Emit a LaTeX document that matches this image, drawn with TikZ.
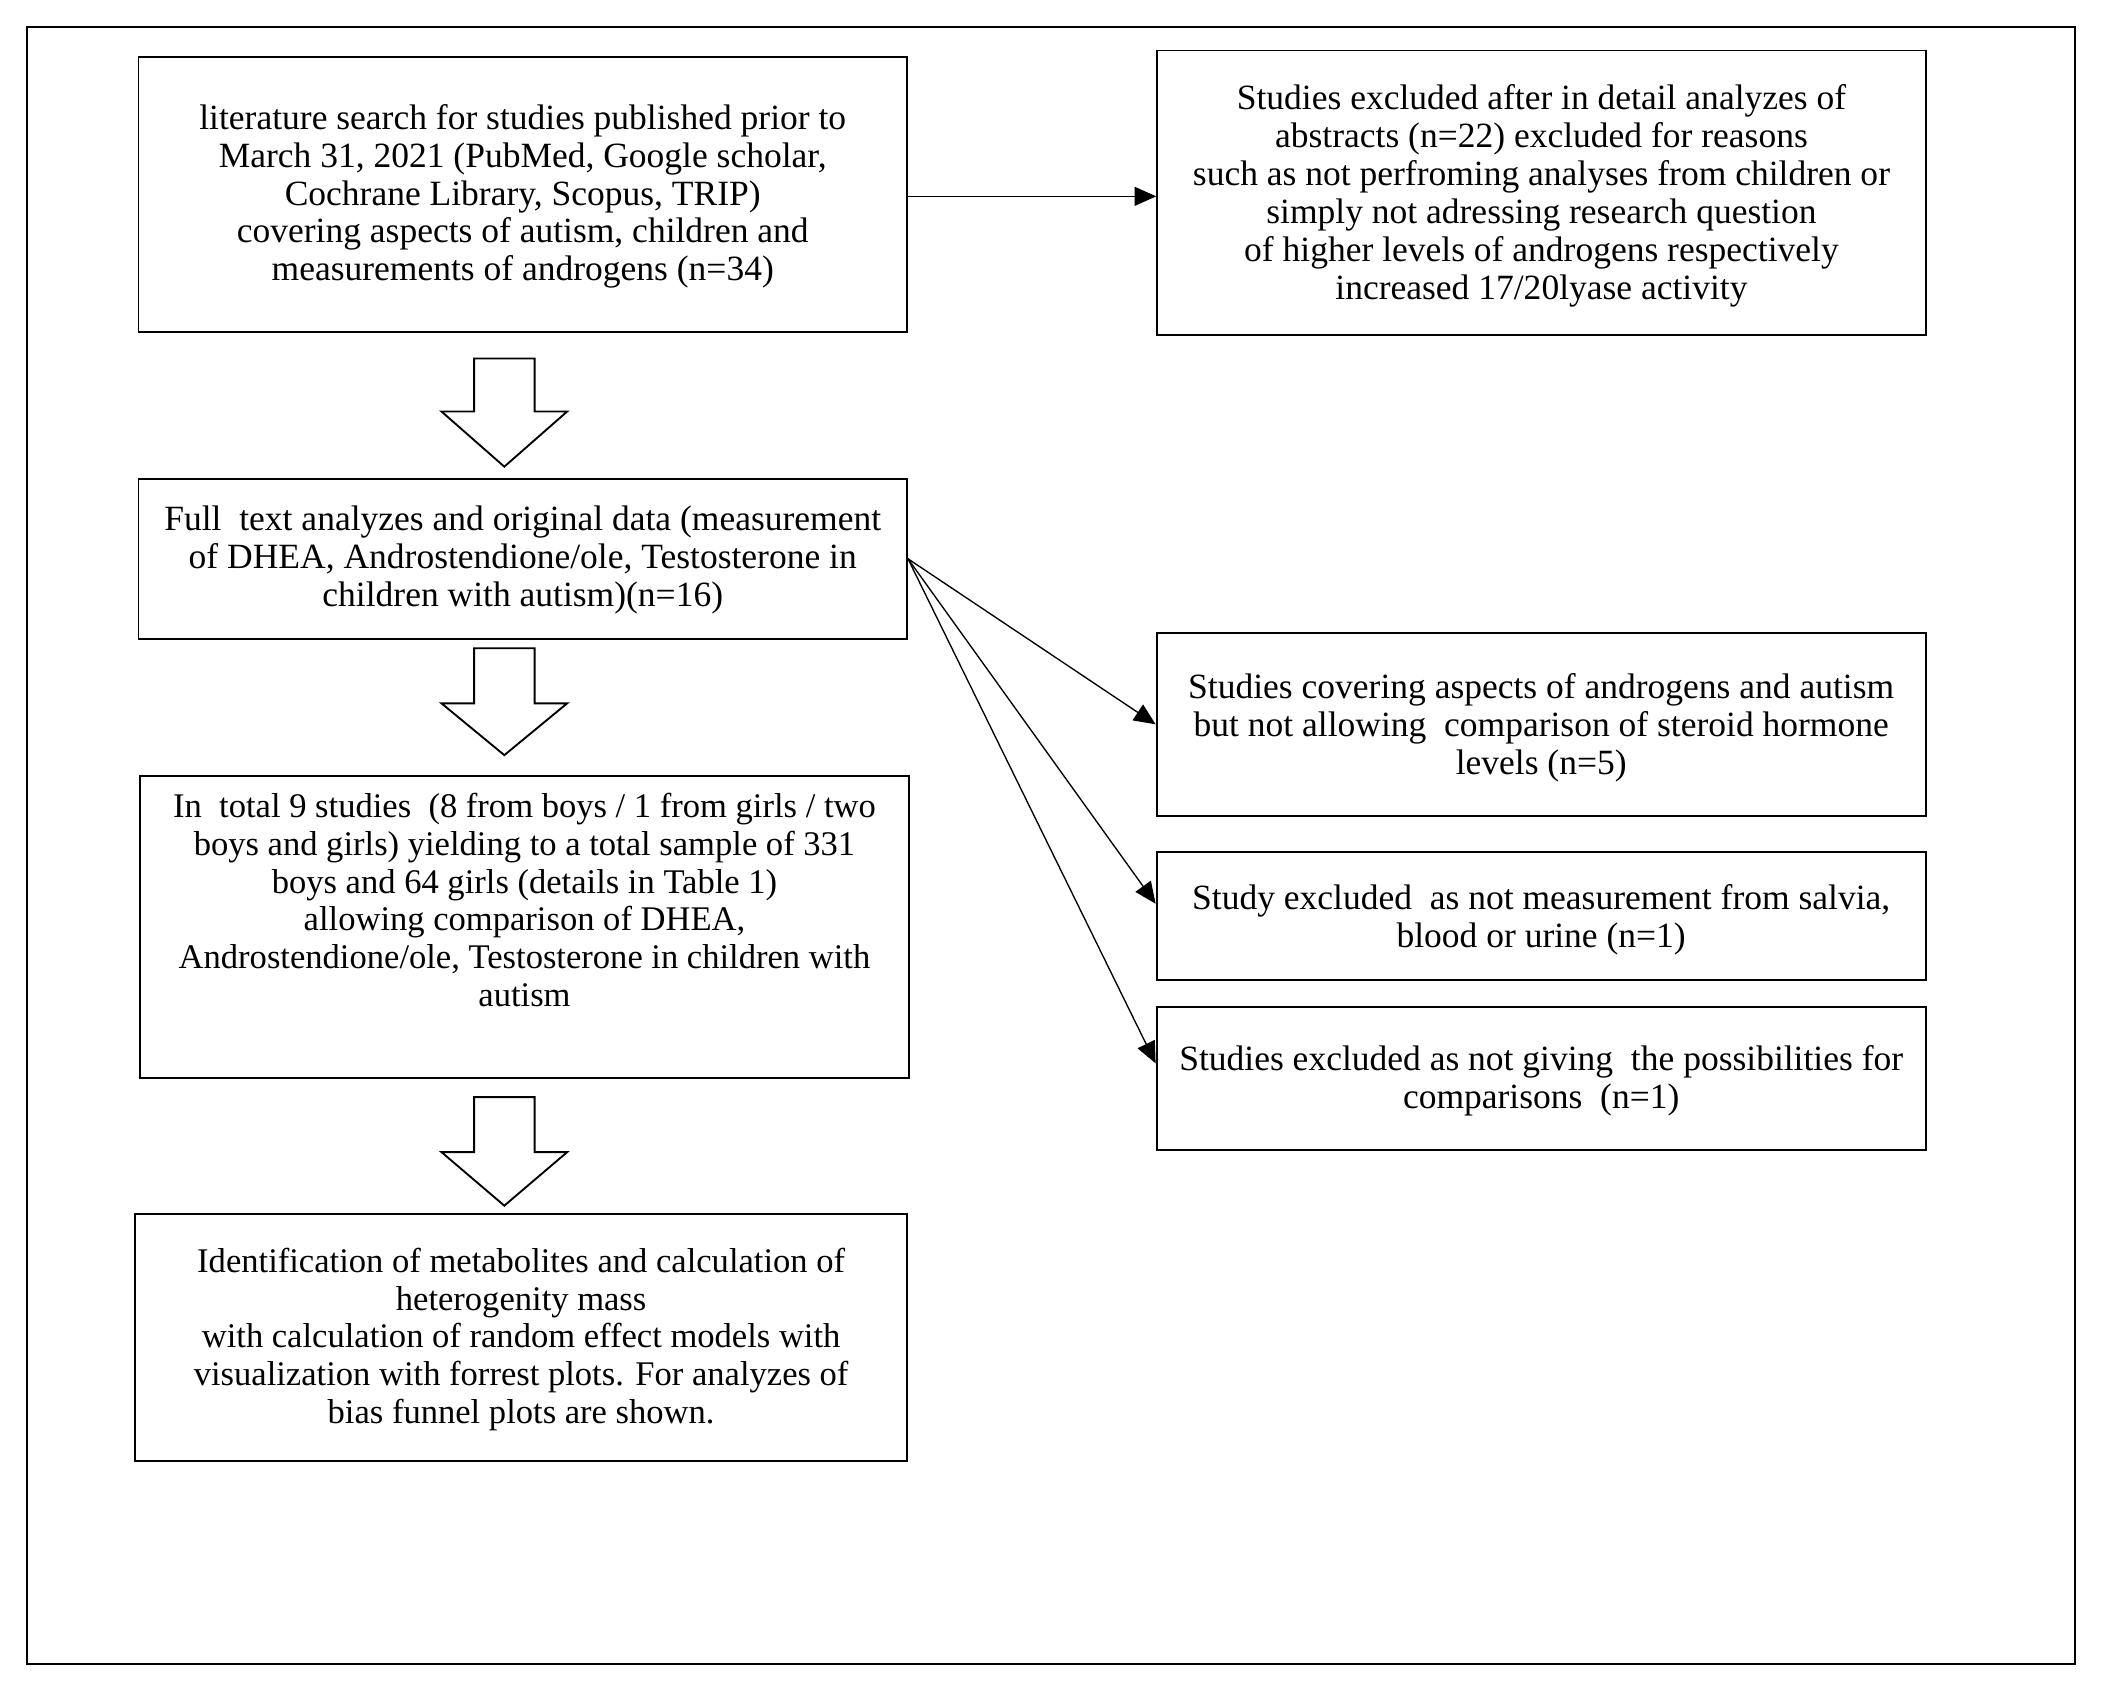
\documentclass[tikz,border=0pt]{standalone}
\usepackage{fontspec}
\setmainfont{Liberation Serif}
\usetikzlibrary{arrows.meta}
\begin{document}
\begin{tikzpicture}[x=1pt,y=-1pt,
  box/.style={draw, line width=1.4pt, inner sep=0pt},
  txt/.style={align=center, inner sep=0pt, font=\fontsize{26.4}{28.2}\selectfont},
  txtb/.style={align=center, inner sep=0pt, font=\fontsize{25.7}{28.2}\selectfont},
  conn/.style={line width=1pt, -{Triangle[length=16pt,width=14pt]}},
  hollow/.style={draw, line width=1.4pt, fill=white, line join=miter}]
\useasboundingbox (0,0) rectangle (1563,1255.2);
\draw[line width=1.5pt] (19.9,19.9) rectangle (1543,1237);

% left column
\node[box, minimum width=571.5pt, minimum height=204.8pt] (b1) at (388.7,144.6) {};
\node[txt] at (388.7,146) {literature search for studies published prior to\\
March 31, 2021 (PubMed, Google scholar,\\
Cochrane Library, Scopus, TRIP)\\
covering aspects of autism, children and\\
measurements of androgens (n=34)};

\node[box, minimum width=571.5pt, minimum height=119pt] (b2) at (388.7,415.5) {};
\node[txt] at (388.7,416.5) {Full\ \ text analyzes and original data (measurement\\
of DHEA, Androstendione/ole, Testosterone in\\
children with autism)(n=16)};

\node[box, minimum width=571.4pt, minimum height=224.9pt] (b3) at (390,689.2) {};
\node[txtb] at (390,669.2) {In\ \ total 9 studies\ \ (8 from boys / 1 from girls / two\\
boys and girls) yielding to a total sample of 331\\
boys and 64 girls (details in Table 1)\\
allowing comparison of DHEA,\\
Androstendione/ole, Testosterone in children with\\
autism};

\node[box, minimum width=573.9pt, minimum height=183.6pt] (b4) at (387.5,994.7) {};
\node[txtb] at (387.5,996) {Identification of metabolites and calculation of\\
heterogenity mass\\
with calculation of random effect models with\\
visualization with forrest plots. For analyzes of\\
bias funnel plots are shown.};

% right column
\node[box, minimum width=571.5pt, minimum height=211.5pt] (r1) at (1146.2,143.3) {};
\node[txt] at (1146.2,145.5) {Studies excluded after in detail analyzes of\\
abstracts (n=22) excluded for reasons\\
such as not perfroming analyses from children or\\
simply not adressing research question\\
of higher levels of androgens respectively\\
increased 17/20lyase activity};

\node[box, minimum width=572pt, minimum height=136.4pt] (r2) at (1146,538.6) {};
\node[txt] at (1146,541.1) {Studies covering aspects of androgens and autism\\
but not allowing\ \ comparison of steroid hormone\\
levels (n=5)};

\node[box, minimum width=572pt, minimum height=95.3pt] (r3) at (1146,681) {};
\node[txt] at (1146,683.6) {Study excluded\ \ as not measurement from salvia,\\
blood or urine (n=1)};

\node[box, minimum width=572pt, minimum height=106.2pt] (r4) at (1146,801.7) {};
\node[txt] at (1146,803.5) {Studies excluded as not giving\ \ the possibilities for\\
comparisons\ \ (n=1)};

% hollow block arrows
\draw[hollow] (352.5,266.6) -- (397.5,266.6) -- (397.5,306) -- (421.7,306) -- (375,347) -- (328.3,306) -- (352.5,306) -- cycle;
\draw[hollow] (352.5,482) -- (397.5,482) -- (397.5,523) -- (421.7,523) -- (375,561.5) -- (328.3,523) -- (352.5,523) -- cycle;
\draw[hollow] (352.5,815.8) -- (397.5,815.8) -- (397.5,856.7) -- (421.7,856.7) -- (375,896.5) -- (328.3,856.7) -- (352.5,856.7) -- cycle;

% connectors
\coordinate (s1) at ([yshift=-1.4pt]b1.east);
\draw[conn] (s1) -- (s1 -| r1.west);
\draw[conn] (b2.east) -- (r2.west);
\draw[conn] (b2.east) -- ([yshift=9pt]r3.west);
\draw[conn] (b2.east) -- ([yshift=11pt]r4.west);
\end{tikzpicture}
\end{document}
